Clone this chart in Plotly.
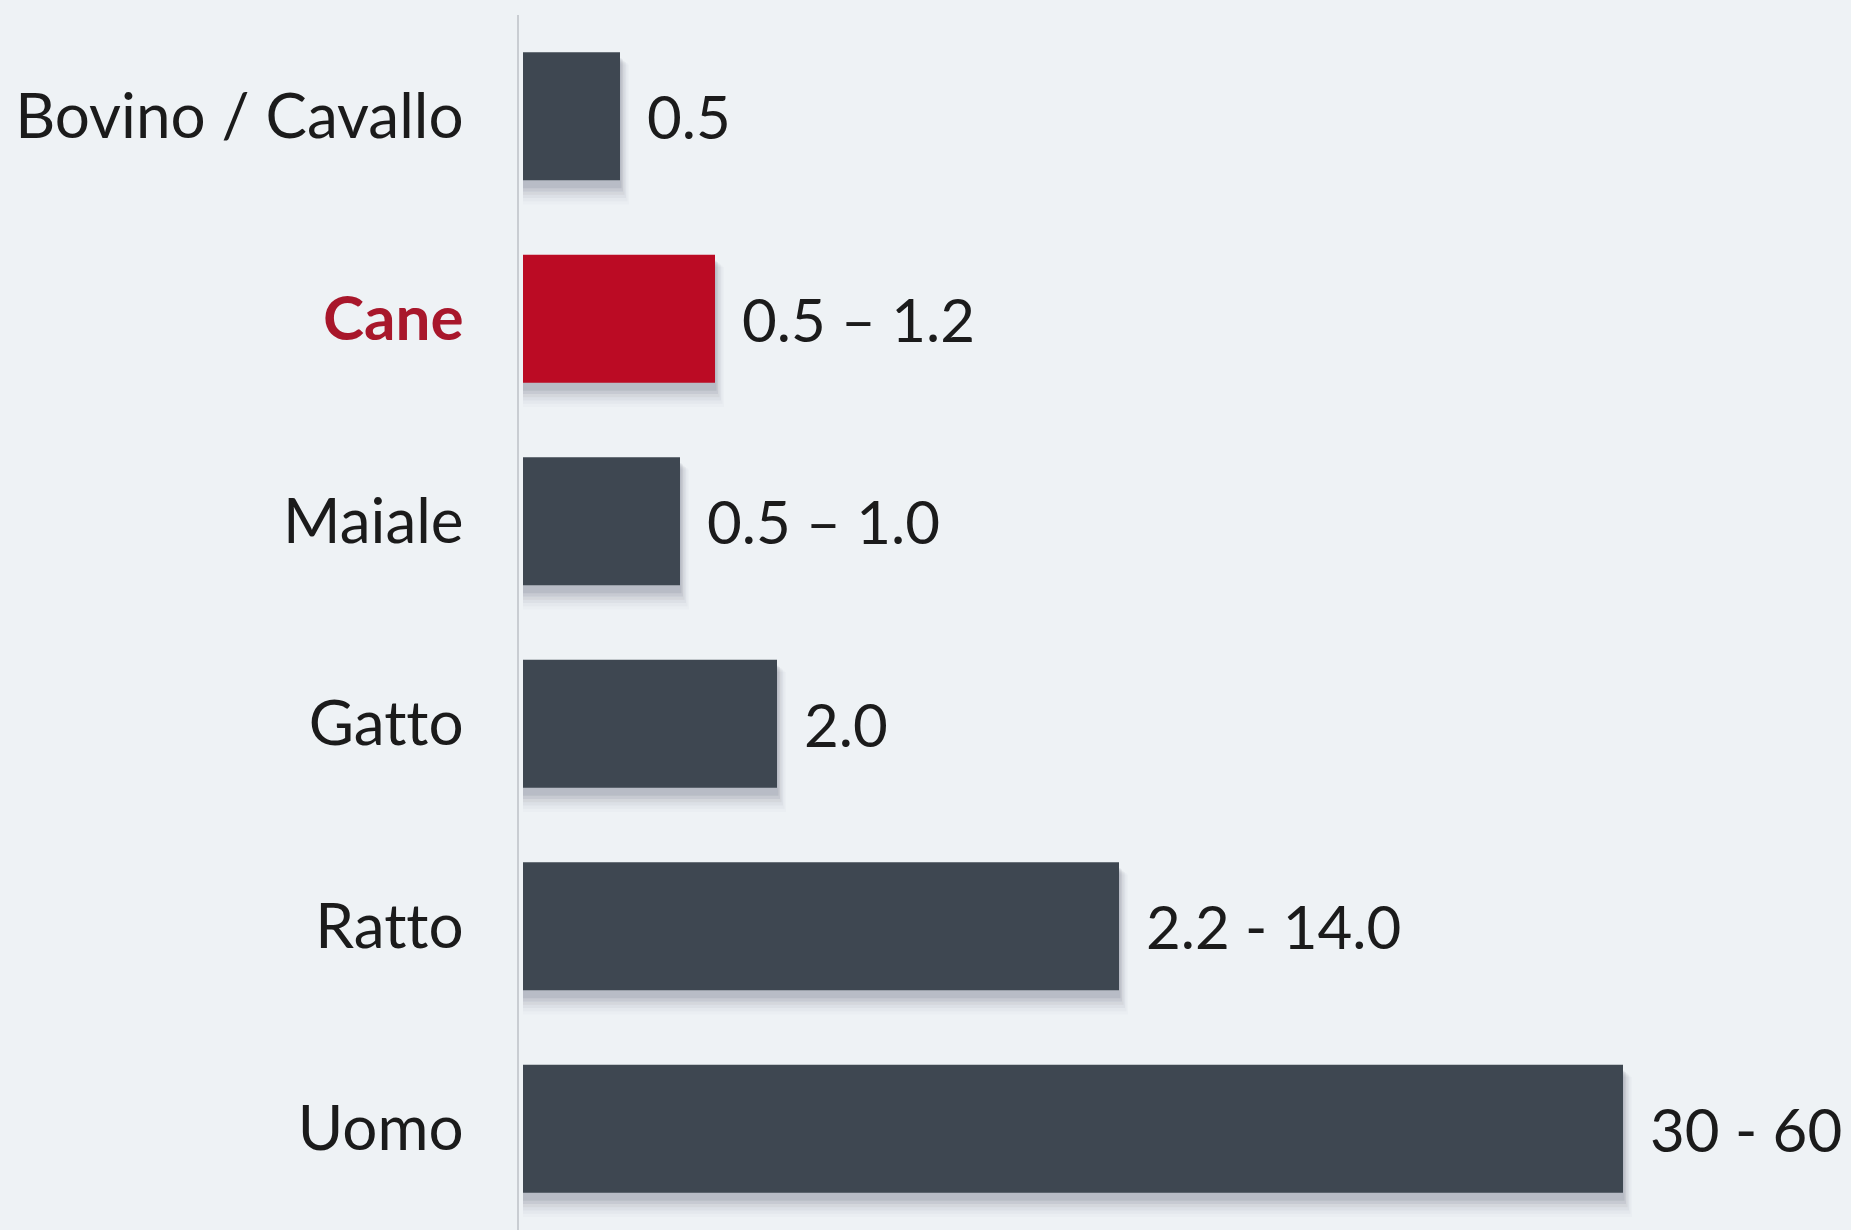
import plotly.graph_objects as go

# Data
categories = ["Bovino / Cavallo", "Cane", "Maiale", "Gatto", "Ratto", "Uomo"]
value_labels = ["0.5", "0.5 – 1.2", "0.5 – 1.0", "2.0", "2.2 - 14.0", "30 - 60"]
# bar lengths as drawn (illustrative scale)
bar_length = [0.97, 1.92, 1.57, 2.54, 5.96, 11.0]
highlight = "Cane"

DARK = "#3e4751"
RED = "#bb0b24"
RED_TEXT = "#a8172b"
BG = "#eef2f5"
TXT = "#1b1b1b"
FONT = "Lato, 'Open Sans', sans-serif"

colors = [RED if c == highlight else DARK for c in categories]
ticktext = [f"<b><span style='color:{RED_TEXT}'>{c}</span></b>" if c == highlight else c
            for c in categories]

fig = go.Figure()

bw = 0.632
# soft drop shadows
for k, op in enumerate([0.10, 0.08, 0.06, 0.045, 0.03, 0.02]):
    fig.add_trace(go.Bar(
        y=categories, x=[v + 0.015 * (k + 1) for v in bar_length], orientation="h",
        width=bw + 0.01 * (k + 1), offset=-bw / 2 + 0.03 + 0.006 * k,
        marker=dict(color=f"rgba(60,70,85,{op})", line=dict(width=0)),
        hoverinfo="skip", showlegend=False,
    ))

fig.add_trace(go.Bar(
    y=categories, x=bar_length, orientation="h",
    width=bw, offset=-bw / 2,
    marker=dict(color=colors, line=dict(width=0)),
    showlegend=False,
))

for c, v, t in zip(categories, bar_length, value_labels):
    fig.add_annotation(x=v, y=c, text=t, xanchor="left", yanchor="middle",
                       xshift=25, showarrow=False,
                       font=dict(family=FONT, size=60, color=TXT))

fig.update_layout(
    width=1851, height=1230,
    margin=dict(l=519, r=0, t=15, b=0),
    paper_bgcolor=BG, plot_bgcolor=BG,
    barmode="overlay",
    font=dict(family=FONT, size=60, color=TXT),
    xaxis=dict(range=[-0.04, 13.28], showgrid=False, zeroline=False,
               showticklabels=False, showline=False, fixedrange=True),
    yaxis=dict(autorange=False, range=[5.5, -0.5], type="category",
               categoryorder="array", categoryarray=categories,
               tickvals=categories, ticktext=ticktext,
               showgrid=False, zeroline=False, ticks="",
               ticklabelstandoff=41,
               tickfont=dict(family=FONT, size=62, color=TXT),
               showline=True, linecolor="#c9cdd2", linewidth=2),
)

post = (
    "document.body.style.margin='0';"
    "document.body.style.background='%s';"
    "var s=document.createElement('style');"
    "s.textContent='svg text{font-variant-ligatures:none;font-feature-settings:\"liga\" 0;}';"
    "document.head.appendChild(s);" % BG
)
fig.write_html("out.html", post_script=post, config={"displayModeBar": False})
